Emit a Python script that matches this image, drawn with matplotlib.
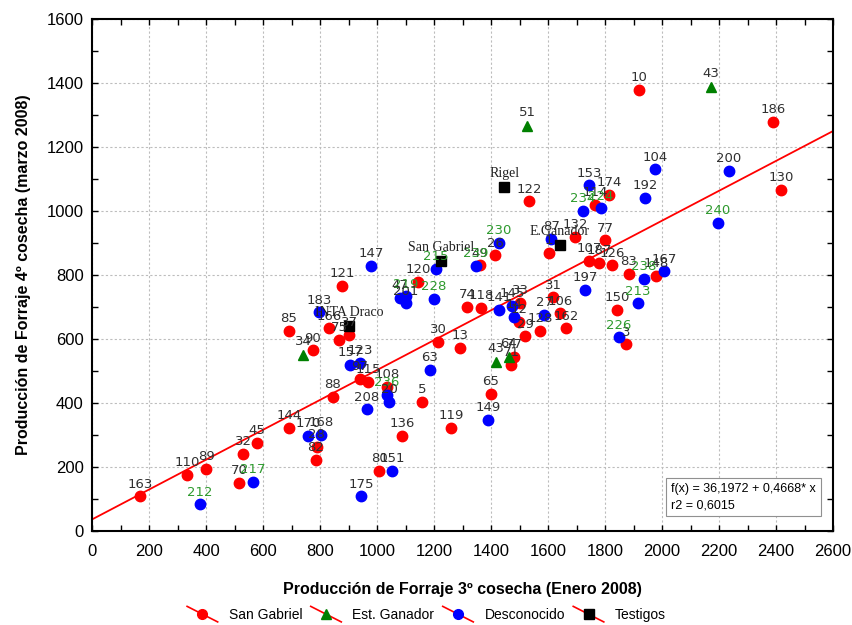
import matplotlib
matplotlib.use('Agg')
from matplotlib import pyplot as plt
from matplotlib.lines import Line2D
from matplotlib.legend_handler import HandlerBase
from matplotlib.ticker import MultipleLocator
import numpy as np

# San Gabriel (rojo)
sg_id = ['163', '110', '89', '70', '32', '45', '144', '28', '82', '88', '90', '85',
         '121', '120', '166', '75', '37', '97', '115', '108', '30', '13', '5', '136',
         '119', '65', '80', '74', '118', '49', '26', '122', '1', '132', '77', '107',
         '187', '126', '31', '106', '162', '128', '29', '33', '12', '77', '71', '10',
         '186', '130', '174', '114', '83', '148', '150', '3']
sg_x = [168, 333, 400, 516, 530, 579, 691, 789, 786, 845, 775, 691,
        877, 1144, 832, 867, 902, 940, 968, 1035, 1214, 1291, 1158, 1088,
        1260, 1400, 1007, 1316, 1365, 1361, 1414, 1533, 1604, 1695, 1800, 1744,
        1779, 1825, 1618, 1642, 1663, 1572, 1519, 1502, 1498, 1481, 1470, 1919,
        2389, 2418, 1814, 1765, 1884, 1979, 1842, 1874]
sg_y = [109, 175, 194, 150, 241, 275, 322, 263, 222, 419, 565, 625,
        766, 778, 634, 597, 613, 475, 466, 450, 591, 572, 403, 297,
        322, 428, 188, 700, 697, 831, 862, 1031, 869, 919, 909, 844,
        838, 831, 731, 681, 634, 625, 609, 713, 653, 544, 519, 1378,
        1278, 1066, 1050, 1019, 803, 797, 691, 584]

# Est. Ganador (verde)
eg_id = ['34', '51', '43', '43', '64']
eg_x = [740, 1526, 2172, 1418, 1463]
eg_y = [550, 1266, 1388, 528, 544]

# Desconocido (azul); los >= 212 llevan etiqueta verde
de_id = ['212', '217', '170', '168', '183', '147', '215', '47', '219', '201', '228',
         '157', '123', '208', '236', '20', '63', '149', '151', '175', '239', '230',
         '141', '145', '14', '87', '27', '197', '153', '234', '224', '192', '104',
         '238', '167', '213', '226', '200', '240']
de_x = [379, 565, 758, 804, 797, 979, 1207, 1081, 1102, 1102, 1200,
        905, 940, 965, 1035, 1042, 1186, 1389, 1053, 944, 1347, 1428,
        1428, 1474, 1481, 1611, 1586, 1730, 1744, 1723, 1786, 1940, 1975,
        1937, 2007, 1916, 1849, 2235, 2196]
de_y = [84, 153, 297, 300, 684, 828, 819, 728, 734, 712, 725,
        519, 525, 381, 425, 403, 503, 347, 188, 109, 828, 900,
        691, 703, 669, 913, 675, 753, 1081, 1000, 1009, 1041, 1131,
        788, 812, 712, 606, 1125, 963]
de_green = ['212', '217', '215', '219', '228', '236', '239', '230', '234', '224',
            '238', '213', '226', '240']

# Testigos (negro)
te_id = ['Rigel', 'San Gabriel', 'E.Ganador', 'INTA Draco']
te_x = [1446, 1225, 1642, 902]
te_y = [1075, 844, 894, 641]

a, b = 36.1972, 0.4668

plt.rcParams['font.family'] = ['Liberation Sans', 'DejaVu Sans']

fig = plt.figure(figsize=(8.53, 6.25), dpi=100)
ax = fig.add_axes([0.1079, 0.1504, 0.8687, 0.8192])

ax.grid(True, color='#bdbdbd', linestyle=(0, (2, 2)), linewidth=0.8)
ax.set_axisbelow(True)

xl = np.array([0, 2600])
ax.plot(xl, a + b * xl, color='red', linewidth=1.3, zorder=2)

ms = 7.5
ax.plot(sg_x, sg_y, 'o', color='red', markersize=ms, linestyle='none', zorder=3)
ax.plot(eg_x, eg_y, '^', color='green', markersize=ms, linestyle='none', zorder=3)
ax.plot(de_x, de_y, 'o', color='blue', markersize=ms, linestyle='none', zorder=3)
ax.plot(te_x, te_y, 's', color='black', markersize=7, linestyle='none', zorder=3)

lab_kw = dict(textcoords='offset points', ha='center', va='bottom', fontsize=9.5,
              family=['DejaVu Sans'], zorder=4)
for i, x, y in zip(sg_id, sg_x, sg_y):
    ax.annotate(i, (x, y), xytext=(0, 4), color='#303030', **lab_kw)
for i, x, y in zip(eg_id, eg_x, eg_y):
    ax.annotate(i, (x, y), xytext=(0, 5), color='#303030', **lab_kw)
for i, x, y in zip(de_id, de_x, de_y):
    c = '#2e9a2e' if i in de_green else '#303030'
    ax.annotate(i, (x, y), xytext=(0, 4), color=c, **lab_kw)
for i, x, y in zip(te_id, te_x, te_y):
    ax.annotate(i, (x, y), xytext=(0, 5), textcoords='offset points', ha='center',
                va='bottom', fontsize=10, family=['Liberation Serif'], color='#202020', zorder=4)

ax.set_xlim(0, 2600)
ax.set_ylim(0, 1600)
ax.xaxis.set_major_locator(MultipleLocator(200))
ax.xaxis.set_minor_locator(MultipleLocator(100))
ax.yaxis.set_major_locator(MultipleLocator(200))
ax.yaxis.set_minor_locator(MultipleLocator(100))
ax.tick_params(which='both', direction='in', top=True, right=True, length=4, width=1,
               labelsize=12)
ax.tick_params(axis='x', pad=9)
ax.tick_params(axis='y', pad=6)
for s in ax.spines.values():
    s.set_linewidth(1.5)

ax.set_xlabel('Producción de Forraje 3º cosecha (Enero 2008)', fontsize=11.5,
              fontweight='bold', labelpad=17)
ax.set_ylabel('Producción de Forraje 4º cosecha (marzo 2008)', fontsize=11.5,
              fontweight='bold', labelpad=11)

ax.text(0.781, 0.093, 'f(x) = 36,1972 + 0,4668* x\nr2 = 0,6015', transform=ax.transAxes,
        ha='left', va='top', fontsize=9, linespacing=1.45,
        bbox=dict(boxstyle='square,pad=0.4', facecolor='white', edgecolor='#909090',
                  linewidth=0.8), zorder=5)


class DiagHandler(HandlerBase):
    def create_artists(self, legend, orig_handle, xdescent, ydescent, width, height,
                       fontsize, trans):
        x0, y0 = -xdescent, -ydescent
        ln = Line2D([x0, x0 + width], [y0 + height * 1.3, y0 - height * 0.3], color='red',
                    linewidth=1.2, transform=trans)
        mk = Line2D([x0 + width / 2], [y0 + height / 2], marker=orig_handle.get_marker(),
                    color=orig_handle.get_color(), markersize=7, linestyle='none',
                    transform=trans)
        return [ln, mk]


handles = [Line2D([], [], marker='o', color='red'),
           Line2D([], [], marker='^', color='green'),
           Line2D([], [], marker='o', color='blue'),
           Line2D([], [], marker='s', color='black')]
labels = ['San Gabriel', 'Est. Ganador', 'Desconocido', 'Testigos']
fig.legend(handles, labels, handler_map={Line2D: DiagHandler()}, loc='center',
           bbox_to_anchor=(0.5, 0.016), ncol=4, frameon=False, fontsize=10,
           handlelength=2.2, columnspacing=0.6, handletextpad=0.8)

fig.savefig('out.png', dpi=100)
